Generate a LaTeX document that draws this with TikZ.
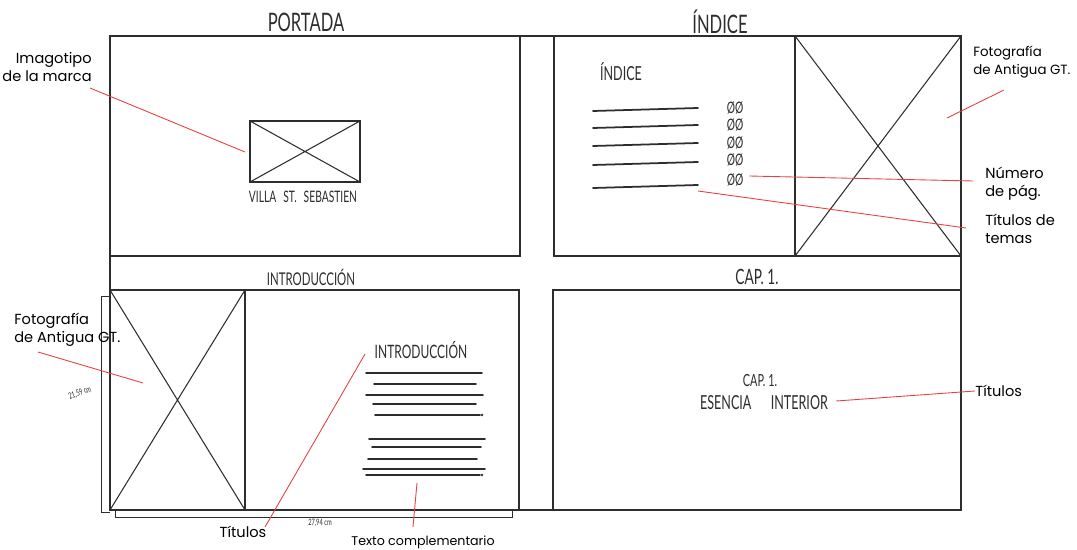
\documentclass[tikz,border=0pt]{standalone}
\usepackage{fontspec}
\setmainfont{Poppins}
\newfontfamily\handfont[FakeStretch=0.65]{Lato}
\definecolor{calloutred}{RGB}{232,64,64}
\definecolor{pencil}{RGB}{45,45,45}

\begin{document}
\begin{tikzpicture}[x=0.02cm, y=-0.02cm,
    page/.style={draw=pencil, line width=0.8pt},
    cross/.style={draw=pencil, line width=0.6pt},
    callout/.style={draw=calloutred, line width=0.5pt},
    note/.style={font=\fontsize{8.3}{10.3}\selectfont, inner sep=0pt},
    hand/.style={font=\handfont\fontsize{10}{12}\selectfont, text=pencil, inner sep=0pt},
    scribble/.style={draw=pencil, line width=1pt, line cap=round}]
  \useasboundingbox (0,0) rectangle (1077,550);

  % pages of the two spreads
  \draw[page] (110,36) rectangle (520,256);
  \draw[page] (554,36) rectangle (961,256);
  \draw[page] (110,290) rectangle (519,510);
  \draw[page] (553,290) rectangle (961,510);
  \draw[page] (520,36) -- (554,36);
  \draw[page] (110,256) -- (110,290);
  \draw[page] (961,256) -- (961,290);
  \draw[page] (519,510) -- (553,510);

  % page titles
  \node[hand, font=\handfont\fontsize{14.5}{16}\selectfont] (portada) at (306,22) {PORTADA};
  \node[hand, font=\handfont\fontsize{14.5}{16}\selectfont] (indice) at (720,22) {ÍNDICE};
  \node[hand] (intro) at (311,277) {INTRODUCCIÓN};
  \node[hand, font=\handfont\fontsize{12}{14}\selectfont] (cap) at (757,277) {CAP. 1.};

  % portada
  \draw[page] (250,121) rectangle (360,182);
  \draw[cross] (250,121) -- (360,182) (360,121) -- (250,182);
  \node[hand, font=\handfont\fontsize{9}{11}\selectfont] (villa) at (303,197) {VILLA\; ST.\; SEBASTIEN};
  \node[note, anchor=north east, align=right] (imagotipo) at (92,52) {Imagotipo\\de la marca};
  \coordinate (imgA) at (90,88);
  \coordinate (imgB) at (245,152);
  \draw[callout] (imgA) -- (imgB);

  % indice
  \draw[page] (795,36) -- (795,256);
  \draw[cross] (795,36) -- (961,256) (961,36) -- (795,256);
  \node[hand, font=\handfont\fontsize{11}{13}\selectfont] (idxtitle) at (621,72) {ÍNDICE};
  \foreach \y/\ny/\n in {110/108/1,127/125/2,145/143/3,164/160/4,187/180/5}{
    \draw[scribble] (593,\y+1) .. controls (645,\y) .. (698,\y-2);
    \node[hand, font=\handfont\fontsize{9}{10}\selectfont] (num\n) at (735,\ny) {ØØ};
  }
  \node[note, font=\fontsize{7.6}{10}\selectfont, anchor=north west, align=left] (fotoidx) at (973,46) {Fotografía\\de Antigua GT.};
  \coordinate (fotoA) at (1004,90);
  \coordinate (fotoB) at (947,118);
  \draw[callout] (fotoA) -- (fotoB);
  \node[note, anchor=north west, align=left] (numero) at (985,167) {Número\\de pág.};
  \coordinate (numA) at (749,176);
  \coordinate (numB) at (973,181);
  \draw[callout] (numA) -- (numB);
  \node[note, anchor=north west, align=left] (temas) at (985,214) {Títulos de\\temas};
  \coordinate (temA) at (698,191);
  \coordinate (temB) at (966,228);
  \draw[callout] (temA) -- (temB);

  % introduccion
  \draw[page] (245,290) -- (245,510);
  \draw[cross] (110,290) -- (245,510) (245,290) -- (110,510);
  \node[hand, font=\handfont\fontsize{10.5}{12}\selectfont] (introtitle) at (421,350) {INTRODUCCIÓN};
  \foreach \a/\b/\y in {366/482/373,374/476/384,366/483/395,373/476/404,375/480/415,
                        369/485/439,372/481/447,368/477/459,363/485/469,366/480/475}{
    \draw[scribble, line width=0.9pt] (\a,\y) -- (\b,\y);
  }
  \fill[pencil] (482,415) circle (1.3) (482,475) circle (1.3);
  \draw[pencil, line width=0.5pt] (110,296) -- (101,296) -- (101,512) -- (110,512);
  \draw[pencil, line width=0.5pt] (115,510) -- (115,517) -- (512,517) -- (512,510);
  \node[hand, font=\handfont\fontsize{5}{6}\selectfont, rotate=20] (alto) at (80,393) {21,59 cm};
  \node[hand, font=\handfont\fontsize{5}{6}\selectfont] (ancho) at (320,523) {27,94 cm};
  \node[note, anchor=north west, align=left] (fotointro) at (14,313) {Fotografía\\de Antigua GT.};
  \coordinate (fiA) at (38,352);
  \coordinate (fiB) at (143,383);
  \draw[callout] (fiA) -- (fiB);
  \node[note] (titulos) at (243,532) {Títulos};
  \coordinate (tiA) at (265,527);
  \coordinate (tiB) at (365,354);
  \draw[callout] (tiA) -- (tiB);
  \node[note, font=\fontsize{7.2}{9}\selectfont] (texto) at (423,542) {Texto complementario};
  \coordinate (txA) at (413,527);
  \coordinate (txB) at (417,483);
  \draw[callout] (txA) -- (txB);

  % capitulo 1
  \node[hand, font=\handfont\fontsize{9.5}{11}\selectfont] (captitle) at (760,381) {CAP. 1.};
  \node[hand, font=\handfont\fontsize{11}{13}\selectfont] (esencia) at (764,403) {ESENCIA\quad INTERIOR};
  \node[note, anchor=west] (titcap) at (975,391) {Títulos};
  \draw[callout] (esencia.east) ++(8,-2) coordinate (capA) -- (titcap.west);
\end{tikzpicture}
\end{document}
